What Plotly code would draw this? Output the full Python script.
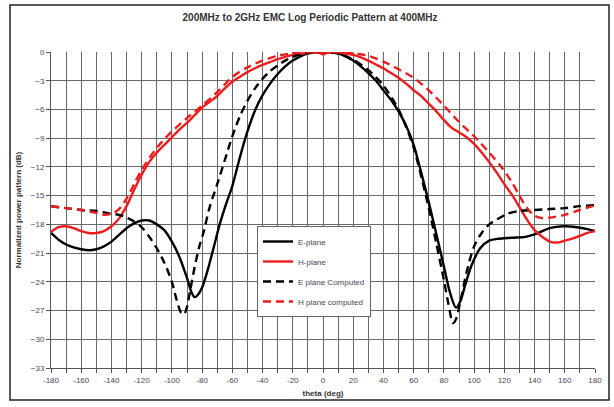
import plotly.graph_objects as go

# ---- data ----
theta_e = [-180, -175, -170, -165, -160, -155, -150, -145, -140, -135, -130, -125, -120, -115,
           -110, -105, -100, -95, -90, -87, -85, -83, -80, -76, -72, -68, -64, -60, -55, -50,
           -45, -40, -35, -30, -25, -20, -15, -10, -5, 0, 5, 10, 15, 20, 25, 30, 35, 40, 45,
           50, 55, 60, 65, 70, 75, 80, 84, 88, 91, 94, 98, 104, 110, 116, 125, 134, 141, 150,
           159, 168, 175, 180]
e_plane = [-18.9, -19.6, -20.1, -20.4, -20.6, -20.7, -20.6, -20.3, -19.8, -19.1, -18.4, -17.9, -17.6, -17.6,
           -18.0, -18.6, -19.8, -21.4, -23.6, -25.1, -25.6, -25.4, -24.6, -22.6, -20.2, -17.8, -15.8, -14.0, -11.0, -8.3,
           -6.1, -4.5, -3.3, -2.3, -1.5, -0.9, -0.45, -0.15, -0.03, 0.0, -0.03, -0.15, -0.45, -0.9, -1.5, -2.2, -3.0, -4.0, -5.0,
           -6.2, -7.7, -9.7, -12.6, -15.7, -19.0, -22.4, -25.1, -26.7, -26.0, -24.4, -22.4, -20.5, -19.7, -19.5, -19.4, -19.3, -19.0, -18.4,
           -18.2, -18.3, -18.5, -18.7]

theta_h = [-180, -175, -170, -165, -160, -155, -150, -145, -140, -135, -130, -125, -120, -115,
           -110, -105, -100, -95, -90, -85, -80, -75, -70, -65, -60, -55, -50, -45, -40, -35,
           -30, -25, -20, -15, -10, -5, -2, 0, 2, 5, 10, 15, 20, 25, 30, 35, 40, 45, 50, 55,
           60, 65, 70, 75, 80, 85, 90, 95, 100, 105, 110, 115, 120, 125, 130, 135, 140, 145,
           150, 155, 160, 165, 170, 175, 180]
h_plane = [-18.8, -18.3, -18.2, -18.4, -18.7, -18.9, -18.9, -18.7, -18.2, -17.4, -16.1, -14.4, -12.8, -11.5,
           -10.5, -9.7, -8.9, -8.1, -7.4, -6.6, -5.8, -5.2, -4.6, -3.8, -3.1, -2.6, -2.1, -1.7, -1.35, -1.05,
           -0.75, -0.5, -0.3, -0.18, -0.1, -0.05, -0.12, -0.25, -0.12, -0.03, -0.08, -0.15, -0.3, -0.55, -0.9, -1.3, -1.7, -2.2, -2.7, -3.3,
           -4.0, -4.6, -5.4, -6.2, -7.1, -7.9, -8.4, -8.9, -9.6, -10.5, -11.5, -12.6, -13.8, -14.9, -16.2, -17.5, -18.6, -19.3,
           -19.8, -19.9, -19.7, -19.5, -19.2, -18.9, -18.7]

theta_ec = [-180, -170, -160, -150, -140, -135, -130, -125, -120, -115, -110, -105, -100, -97, -94,
            -92, -90, -88, -85, -82, -79, -75, -70, -65, -60, -55, -50, -45, -40, -35, -30, -25,
            -20, -15, -10, 0, 10, 20, 30, 40, 50, 55, 60, 65, 70, 75, 80, 83, 86, 88, 91, 95,
            100, 105, 110, 115, 122, 130, 140, 150, 160, 170, 180]
e_computed = [-16.1, -16.3, -16.5, -16.6, -16.9, -17.0, -17.3, -17.7, -18.3, -19.3, -20.5, -22.0, -24.0, -25.8, -27.2,
              -27.4, -26.6, -25.0, -22.5, -20.4, -18.8, -16.2, -13.8, -11.3, -8.8, -6.7, -5.1, -3.8, -2.8, -2.0, -1.4, -0.9,
              -0.5, -0.25, -0.1, 0.0, -0.15, -0.8, -1.9, -3.5, -6.0, -7.8, -10.0, -13.0, -16.3, -20.0, -23.8, -26.3, -28.3, -27.9, -26.0, -23.0,
              -20.3, -18.9, -18.0, -17.5, -16.9, -16.6, -16.5, -16.4, -16.3, -16.1, -16.0]

theta_hc = [-180, -170, -160, -150, -145, -140, -135, -130, -125, -120, -110, -100, -90, -80, -70,
            -60, -50, -40, -30, -20, -10, -5, 0, 5, 10, 20, 30, 40, 50, 60, 70, 80, 90, 100,
            110, 118, 125, 130, 135, 140, 145, 150, 160, 170, 180]
h_computed = [-16.1, -16.3, -16.5, -16.8, -17.0, -16.9, -16.4, -15.3, -13.8, -12.3, -10.0, -8.3, -6.9, -5.6, -4.2,
              -2.6, -1.6, -0.9, -0.4, -0.12, -0.02, 0.0, -0.15, 0.0, -0.02, -0.12, -0.4, -1.0, -1.8, -2.7, -4.0, -5.6, -7.3, -8.8,
              -10.5, -12.0, -13.6, -15.0, -16.3, -17.1, -17.35, -17.3, -17.0, -16.5, -16.0]

x_tickvals = list(range(-180, 181, 10))
x_ticktext = [str(v) if v % 20 == 0 else "" for v in x_tickvals]
y_tickvals = list(range(-33, 1, 3))

title_text = "200MHz to 2GHz EMC Log Periodic Pattern at 400MHz"
x_title = "theta (deg)"
y_title = "Normalized power pattern (dB)"

RED = "#ee1c1c"
BLACK = "#000000"

fig = go.Figure()
fig.add_trace(go.Scatter(x=theta_e, y=e_plane, mode="lines", name="E-plane", legendgroup="a",
                         line=dict(color=BLACK, width=2.4, shape="spline", smoothing=0.8)))
fig.add_trace(go.Scatter(x=theta_h, y=h_plane, mode="lines", name="H-plane", legendgroup="b",
                         line=dict(color=RED, width=2.4, shape="spline", smoothing=0.8)))
fig.add_trace(go.Scatter(x=theta_ec, y=e_computed, mode="lines", name="E plane Computed", legendgroup="c",
                         line=dict(color=BLACK, width=2.4, dash="8px,5px", shape="spline", smoothing=0.8)))
fig.add_trace(go.Scatter(x=theta_hc, y=h_computed, mode="lines", name="H plane computed", legendgroup="d",
                         line=dict(color=RED, width=2.4, dash="8px,5px", shape="spline", smoothing=0.8)))

L, R, T, B = 51, 19, 52, 39
W, H = 614, 407
pw, ph = W - L - R, H - T - B

def px2paper_x(px):
    return (px - L) / pw

def px2paper_y(py):
    return (H - B - py) / ph

fig.update_layout(
    width=W, height=H,
    margin=dict(l=L, r=R, t=T, b=B, pad=0),
    paper_bgcolor="white", plot_bgcolor="white",
    font=dict(family="Liberation Sans, Arial, sans-serif", size=8, color="#4a4458"),
    title=dict(text="<b>" + title_text + "</b>", x=0.505, xanchor="center", y=0.958, yanchor="middle",
               font=dict(size=10, color="#333333")),
    showlegend=True,
    legend=dict(x=px2paper_x(257), y=px2paper_y(226), xanchor="left", yanchor="top",
                bgcolor="white", bordercolor="#666666", borderwidth=1,
                font=dict(size=8, color="#4a4458"), itemwidth=30,
                tracegroupgap=1),
    shapes=[dict(type="rect", xref="paper", yref="paper",
                 x0=px2paper_x(10), x1=px2paper_x(609), y0=px2paper_y(400), y1=px2paper_y(5),
                 line=dict(color="#222222", width=1.5), fillcolor="rgba(0,0,0,0)", layer="below")],
)
fig.update_xaxes(range=[-180, 180], tickmode="array", tickvals=x_tickvals, ticktext=x_ticktext,
                 showgrid=True, gridcolor="#6a6a6a", gridwidth=1,
                 showline=True, linecolor="#555555", linewidth=1, mirror=False,
                 ticks="outside", ticklen=4, tickcolor="#555555",
                 zeroline=False,
                 title=dict(text="<b>" + x_title + "</b>", standoff=6, font=dict(size=8, color="#333333")))
fig.update_yaxes(range=[-33, 0], tickmode="array", tickvals=y_tickvals,
                 showgrid=True, gridcolor="#6a6a6a", gridwidth=1,
                 showline=True, linecolor="#555555", linewidth=1,
                 ticks="outside", ticklen=4, tickcolor="#555555",
                 zeroline=False,
                 title=dict(text="<b>" + y_title + "</b>", standoff=8, font=dict(size=8, color="#333333")))

fig.write_html("out.html", config={"displayModeBar": False},
               post_script="document.body.style.margin='0px';document.body.style.padding='0px';")
